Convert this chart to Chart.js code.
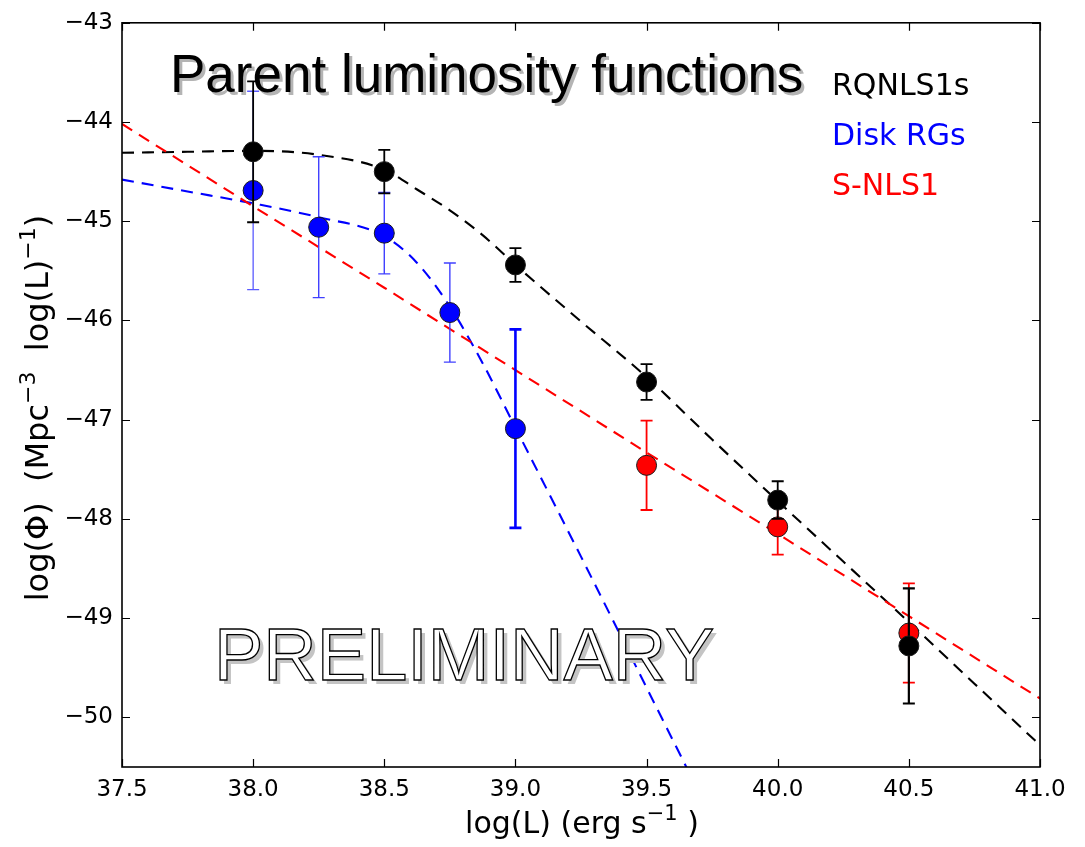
<!DOCTYPE html>
<html>
<head>
<meta charset="utf-8">
<title>Parent luminosity functions</title>
<script src="https://cdn.jsdelivr.net/npm/chart.js@4.4.0/dist/chart.umd.min.js"></script>
<style>
  html, body { margin: 0; padding: 0; background: #fff; }
  #wrap { width: 1085px; height: 847px; }
</style>
</head>
<body>
<div id="wrap"><canvas id="lfChart" width="1085" height="847"></canvas></div>
<script>
// tick labels
const xTicks = [37.5, 38.0, 38.5, 39.0, 39.5, 40.0, 40.5, 41.0];
const yTicks = [-50, -49, -48, -47, -46, -45, -44, -43];

// binned points, log(Phi) and symmetric errors
const binsRQ = [38.0, 38.5, 39.0, 39.5, 40.0, 40.5];
const phiRQ  = [-44.30, -44.50, -45.44, -46.62, -47.81, -49.28];
const errRQ  = [0.71, 0.22, 0.17, 0.18, 0.19, 0.58];

const binsDisk = [38.0, 38.25, 38.5, 38.75, 39.0];
const phiDisk  = [-44.69, -45.06, -45.12, -45.92, -47.09];
const errDisk  = [1.00, 0.71, 0.41, 0.50, 1.00];

const binsS = [39.5, 40.0, 40.5];
const phiS  = [-47.46, -48.08, -49.15];
const errS  = [0.45, 0.28, 0.50];

// fitted curves (dashed)
const fitXRQ = [37.5, 37.75, 38.0, 38.25, 38.5, 38.625, 38.75, 38.875, 39.0, 39.25, 39.5, 39.75, 40.0, 40.25, 40.5, 40.75, 41.0];
const fitRQ  = [-44.31, -44.30, -44.29, -44.33, -44.48, -44.68, -44.89, -45.14, -45.44, -46.01, -46.57, -47.20, -47.82, -48.43, -49.04, -49.66, -50.28];

const fitXDisk = [37.5, 37.75, 38.0, 38.25, 38.5, 38.625, 38.75, 38.875, 39.0, 39.25, 39.5, 39.75];
const fitDisk  = [-44.58, -44.70, -44.82, -44.96, -45.15, -45.42, -45.86, -46.43, -47.08, -48.38, -49.70, -51.02];

const fitXS = [37.5, 38.0, 38.5, 39.0, 39.5, 40.0, 40.5, 41.0];
const fitS  = [-44.02, -44.85, -45.67, -46.50, -47.33, -48.15, -48.98, -49.81];

const pts = (xs, ys) => xs.map((x, i) => ({ x: x, y: ys[i] }));

// error bars drawn right before each point dataset
const errorBarPlugin = {
  id: 'errorBars',
  beforeDatasetDraw(chart, args) {
    const ds = chart.data.datasets[args.index];
    if (!ds.errors) return;
    const { ctx, scales: { x, y } } = chart;
    ctx.save();
    ds.data.forEach((p, i) => {
      const px = x.getPixelForValue(p.x);
      const top = y.getPixelForValue(p.y + ds.errors[i]);
      const bot = y.getPixelForValue(p.y - ds.errors[i]);
      ctx.strokeStyle = ds.errColors ? ds.errColors[i] : ds.backgroundColor;
      ctx.lineWidth = ds.errWidths ? ds.errWidths[i] : 1.8;
      ctx.beginPath();
      ctx.moveTo(px, top); ctx.lineTo(px, bot);
      ctx.moveTo(px - 6, top); ctx.lineTo(px + 6, top);
      ctx.moveTo(px - 6, bot); ctx.lineTo(px + 6, bot);
      ctx.stroke();
    });
    ctx.restore();
  }
};

// matplotlib style box with inward ticks on all four sides
const framePlugin = {
  id: 'frame',
  afterDatasetsDraw(chart) {
    const { ctx, chartArea: a, scales: { x, y } } = chart;
    ctx.save();
    ctx.strokeStyle = '#000';
    ctx.lineWidth = 1.6;
    ctx.strokeRect(a.left, a.top, a.right - a.left, a.bottom - a.top);
    ctx.lineWidth = 1.2;
    ctx.beginPath();
    xTicks.forEach(v => {
      const px = Math.round(x.getPixelForValue(v)) + 0.5;
      ctx.moveTo(px, a.bottom); ctx.lineTo(px, a.bottom - 8);
      ctx.moveTo(px, a.top); ctx.lineTo(px, a.top + 8);
    });
    yTicks.forEach(v => {
      const py = Math.round(y.getPixelForValue(v)) + 0.5;
      ctx.moveTo(a.left, py); ctx.lineTo(a.left + 8, py);
      ctx.moveTo(a.right, py); ctx.lineTo(a.right - 8, py);
    });
    ctx.stroke();
    ctx.restore();
  }
};

// draw text made of pieces, some of them superscripts
function richWidth(ctx, parts, size) {
  let w = 0;
  parts.forEach(p => {
    ctx.font = (p.sup ? Math.round(size * 0.7) : size) + 'px "DejaVu Sans"';
    w += ctx.measureText(p.t).width;
  });
  return w;
}
function drawRich(ctx, parts, x, y, size) {
  let cx = x;
  parts.forEach(p => {
    ctx.font = (p.sup ? Math.round(size * 0.7) : size) + 'px "DejaVu Sans"';
    ctx.fillText(p.t, cx, p.sup ? y - size * 0.42 : y);
    cx += ctx.measureText(p.t).width;
  });
}

const textPlugin = {
  id: 'texts',
  afterDraw(chart) {
    const { ctx } = chart;
    ctx.save();
    ctx.fillStyle = '#000';
    ctx.textBaseline = 'alphabetic';
    ctx.textAlign = 'left';

    // axis titles
    const xTitle = [{ t: 'log(L) (erg s' }, { t: '\u22121', sup: true }, { t: ' )' }];
    const xw = richWidth(ctx, xTitle, 30);
    drawRich(ctx, xTitle, 582 - xw / 2, 833, 30);

    const yTitle = [{ t: 'log(\u03A6)  (Mpc' }, { t: '\u22123', sup: true }, { t: '  log(L)' }, { t: '\u22121', sup: true }, { t: ')' }];
    const yw = richWidth(ctx, yTitle, 32);
    ctx.save();
    ctx.translate(48, 408);
    ctx.rotate(-Math.PI / 2);
    drawRich(ctx, yTitle, -yw / 2, 0, 32);
    ctx.restore();

    // big title with a soft shadow
    ctx.font = '53px "Liberation Sans"';
    ctx.fillStyle = '#b4b4b4';
    ctx.fillText('Parent luminosity functions', 173, 95);
    ctx.fillStyle = '#000';
    ctx.fillText('Parent luminosity functions', 170, 92);

    // legend labels
    ctx.font = '30px "DejaVu Sans"';
    ctx.fillStyle = '#000';
    ctx.fillText('RQNLS1s', 832, 95);
    ctx.fillStyle = '#0000ff';
    ctx.fillText('Disk RGs', 832, 145);
    ctx.fillStyle = '#ff0000';
    ctx.fillText('S-NLS1', 832, 195);

    // outlined watermark
    ctx.font = '74px "Liberation Sans"';
    ctx.fillStyle = '#c4c4c4';
    ctx.fillText('PRELIMINARY', 218, 684);
    ctx.fillStyle = '#fff';
    ctx.fillText('PRELIMINARY', 214, 680);
    ctx.strokeStyle = '#000';
    ctx.lineWidth = 1.3;
    ctx.strokeText('PRELIMINARY', 214, 680);
    ctx.restore();
  }
};

const fitLine = (xs, ys, color, mode) => ({
  type: 'line',
  data: pts(xs, ys),
  borderColor: color,
  borderWidth: 2.1,
  borderDash: [12, 8],
  pointRadius: 0,
  fill: false,
  tension: mode ? 0.4 : 0,
  cubicInterpolationMode: mode || 'default',
  order: 10
});

const pointSet = (xs, ys, errs, color, order, extra) => Object.assign({
  type: 'scatter',
  data: pts(xs, ys),
  errors: errs,
  backgroundColor: color,
  pointBackgroundColor: color,
  pointBorderColor: '#1a1a1a',
  pointBorderWidth: 1,
  pointRadius: 10,
  order: order
}, extra || {});

const ctx = document.getElementById('lfChart').getContext('2d');
new Chart(ctx, {
  type: 'scatter',
  data: {
    datasets: [
      fitLine(fitXS, fitS, '#ff0000'),
      fitLine(fitXDisk, fitDisk, '#0000ff', 'monotone'),
      fitLine(fitXRQ, fitRQ, '#000000', 'monotone'),
      pointSet(binsS, phiS, errS, '#ff0000', 3, { errWidths: [1.8, 1.8, 1.8] }),
      pointSet(binsDisk, phiDisk, errDisk, '#0000ff', 2, {
        errColors: ['#5a5aff', '#4040ff', '#4040ff', '#4040ff', '#0000ff'],
        errWidths: [1.3, 1.4, 1.4, 1.4, 2.6]
      }),
      pointSet(binsRQ, phiRQ, errRQ, '#000000', 1, { errWidths: [1.8, 1.8, 1.8, 1.8, 1.8, 2.2] })
    ]
  },
  options: {
    responsive: false,
    animation: false,
    layout: { padding: { left: 0, right: 45, top: 20, bottom: 0 } },
    plugins: { legend: { display: false }, tooltip: { enabled: false } },
    scales: {
      x: {
        type: 'linear',
        min: 37.5,
        max: 41.0,
        grid: { display: false, drawTicks: false },
        border: { display: false },
        afterBuildTicks: s => { s.ticks = xTicks.map(v => ({ value: v })); },
        afterFit: s => { s.height = 80; },
        ticks: {
          padding: 9,
          color: '#000',
          autoSkip: false,
          maxRotation: 0,
          font: { family: 'DejaVu Sans', size: 23 },
          callback: v => v.toFixed(1)
        }
      },
      y: {
        type: 'linear',
        min: -50.5,
        max: -43,
        grid: { display: false, drawTicks: false },
        border: { display: false },
        afterBuildTicks: s => { s.ticks = yTicks.map(v => ({ value: v })); },
        afterFit: s => { s.width = 122; },
        ticks: {
          padding: 9,
          color: '#000',
          autoSkip: false,
          font: { family: 'DejaVu Sans', size: 23 },
          callback: v => '\u2212' + Math.abs(v)
        }
      }
    }
  },
  plugins: [errorBarPlugin, framePlugin, textPlugin]
});
</script>
</body>
</html>
